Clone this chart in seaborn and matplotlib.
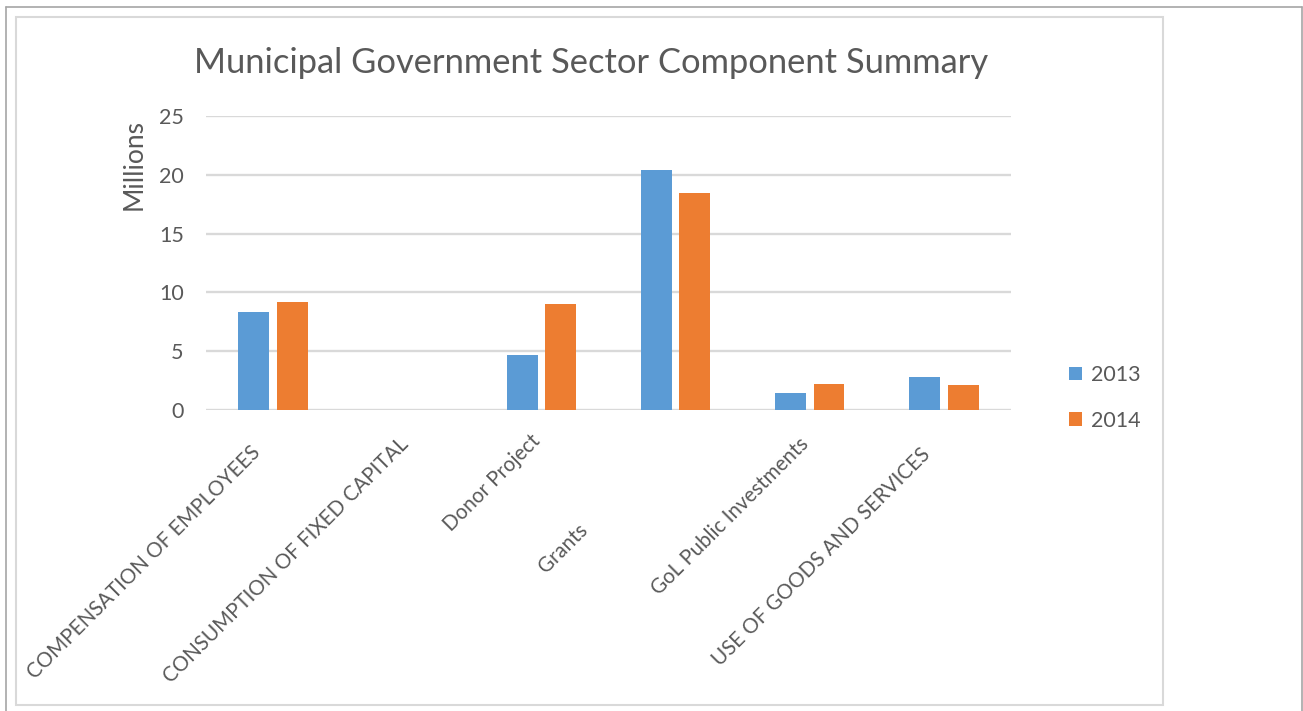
import matplotlib
matplotlib.use("Agg")
import matplotlib.pyplot as plt
from matplotlib.lines import Line2D
from matplotlib.patches import Rectangle
from matplotlib.transforms import ScaledTranslation, blended_transform_factory
import seaborn as sns
import pandas as pd

# Component totals in millions
categories = [
    "COMPENSATION OF EMPLOYEES",
    "CONSUMPTION OF FIXED CAPITAL",
    "Donor Project",
    "Grants",
    "GoL Public Investments",
    "USE OF GOODS AND SERVICES",
]
values_2013 = [8.34, 0.0, 4.68, 20.45, 1.42, 2.78]
values_2014 = [9.17, 0.0, 9.02, 18.41, 2.21, 2.10]
years = ["2013", "2014"]

df = pd.DataFrame({
    "Component": categories * 2,
    "Year": [years[0]] * len(categories) + [years[1]] * len(categories),
    "Value": values_2013 + values_2014,
})

sns.set_theme(style="white")
plt.rcParams["font.family"] = ["Lato", "DejaVu Sans"]

TEXT = "#595959"
GRID = "#d9d9d9"
W, H, DPI = 1303, 711, 100

fig = plt.figure(figsize=(W / DPI, H / DPI), dpi=DPI)
ax = fig.add_axes([206 / W, 1 - 410 / H, (1011 - 206) / W, (410 - 116) / H])

sns.barplot(
    data=df, x="Component", y="Value", hue="Year",
    palette=["#5B9BD5", "#ED7D31"], width=0.575, gap=0.2,
    linewidth=0, saturation=1, ax=ax,
)

ax.set_ylim(0, 25)
ax.set_yticks([0, 5, 10, 15, 20, 25])
ax.yaxis.grid(True, color=GRID, linewidth=1.7)
ax.set_axisbelow(True)
for s in ax.spines.values():
    s.set_visible(False)
ax.tick_params(axis="y", length=0, pad=16, labelsize=15.5, labelcolor=TEXT)
ax.tick_params(axis="x", length=0)
ax.set_xticks(range(len(categories)))
ax.set_xticklabels([])
ax.set_xlabel("")
ax.set_ylabel("")

# Rotated category labels, each nudged to its place below the axis
label_offsets = [(-129, 153), (-121, 150), (-49, 73), (-112, 138), (-80, 106), (-122, 147)]
base = blended_transform_factory(ax.transData, ax.transAxes)
for i, (name, (dx, dy)) in enumerate(zip(categories, label_offsets)):
    tr = base + ScaledTranslation(dx / DPI, -dy / DPI, fig.dpi_scale_trans)
    ax.text(i, 0, name, transform=tr, rotation=45, rotation_mode="anchor",
            ha="center", va="center", fontsize=14.8, color=TEXT)

# Legend
handles, labels = ax.get_legend_handles_labels()
ax.legend(handles, labels, loc="center left",
          bbox_to_anchor=(1069 / W, 1 - 398 / H), bbox_transform=fig.transFigure,
          frameon=False, fontsize=15.5, labelcolor=TEXT, handlelength=0.6,
          handleheight=0.6, handletextpad=0.4, labelspacing=1.2, borderpad=0,
          borderaxespad=0)

# Title and axis title
fig.text(591 / W, 1 - 63 / H, "Municipal Government Sector Component Summary",
         ha="center", va="center", fontsize=24.8, color=TEXT)
fig.text(134 / W, 1 - 164 / H, "Millions", rotation=90, ha="center", va="center",
         fontsize=19, color=TEXT)

# Chart area border and outer frame
fig.patches.append(Rectangle((16 / W, 1 - 705 / H), (1163 - 16) / W, (705 - 17) / H,
                             transform=fig.transFigure, fill=False,
                             edgecolor=GRID, linewidth=1.5))
frame = "#a6a6a6"
fig.lines.append(Line2D([6 / W, 1302 / W], [1 - 7 / H, 1 - 7 / H],
                        transform=fig.transFigure, color=frame, linewidth=1.2))
fig.lines.append(Line2D([6 / W, 6 / W], [0, 1 - 7 / H],
                        transform=fig.transFigure, color=frame, linewidth=1.2))
fig.lines.append(Line2D([1302 / W, 1302 / W], [0, 1 - 7 / H],
                        transform=fig.transFigure, color=frame, linewidth=1.2))

fig.savefig("out.png", dpi=DPI, facecolor="white")
